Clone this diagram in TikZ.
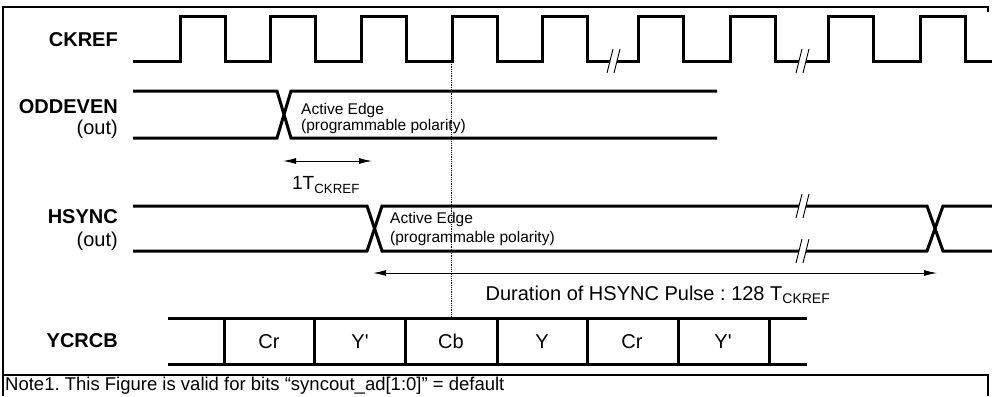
\documentclass[tikz,border=0pt]{standalone}
\usepackage{fontspec}
\setmainfont{Liberation Sans}
\usetikzlibrary{arrows.meta}
\frenchspacing
\tikzset{
%%%%%%%%%%  Line styles
wave/.style={line width=3pt, line join=miter},
bus/.style={line width=3pt},
frame/.style={line width=2pt},
guide/.style={line width=0.8pt, densely dotted},
span/.style={line width=1pt,
             {Latex[length=13pt,width=6pt]}-{Latex[length=13pt,width=6pt]}},
%%%%%%%%%%  Text styles
signame/.style={anchor=east, inner sep=0pt,
                font=\fontsize{20}{24}\selectfont\bfseries},
sigdir/.style={anchor=east, inner sep=0pt,
               font=\fontsize{20}{24}\selectfont},
edgenote/.style={anchor=west, inner sep=0pt,
                 font=\fontsize{15.5}{18}\selectfont},
cellname/.style={anchor=base, inner sep=0pt, font=\fontsize{20}{24}\selectfont},
%%%%%%%%%%  break mark on a line
cut/.pic={
  \fill[white] (-6,12) -- (0,-12) -- (7,-12) -- (1,12) -- cycle;
  \draw[line width=0.9pt] (-6,12) -- (0,-12);
  \draw[line width=0.9pt] (1,12) -- (7,-12);
}
}

\begin{document}
\begin{tikzpicture}[x=1pt,y=-1pt]
\useasboundingbox (0,0) rectangle (992,396);
%% outer frame and note box
\draw[frame] (988,12) -- (988,7) -- (3,7) -- (3,396);
\draw[frame] (3,375) -- (988,375) -- (988,396);
\node[anchor=west, inner sep=0pt, font=\fontsize{18.5}{22}\selectfont] (note) at (5,386)
  {Note1. This Figure is valid for bits “syncout\_ad[1:0]” = default};
%%%%%%%%%%%%%%%%%%%%%%%%%%%%%%%%%%%%%%%%%%%%%%%%%%%%%%%
%% CKREF
\node[signame] (ckref) at (118,40) {CKREF};
\draw[wave] (133,61)
  \foreach \r in {180,270,361,452,542,638,730,828,920}
    { -- (\r,61) -- (\r,17) -- (\r+45,17) -- (\r+45,61) }
  -- (992,61);
\pic at (613,61) {cut};
\pic at (802,61) {cut};
%%%%%%%%%%%%%%%%%%%%%%%%%%%%%%%%%%%%%%%%%%%%%%%%%%%%%%%
%% ODDEVEN
\node[signame] (odd) at (118,107) {ODDEVEN};
\node[sigdir] (oddout) at (118,129) {(out)};
\draw[wave] (133,91) -- (277,91) -- (291,138) -- (717,138);
\draw[wave] (133,138) -- (277,138) -- (291,91) -- (717,91);
\node[edgenote] (oddedge) at (301,110) {Active Edge};
\node[edgenote] (oddpol) at (301,126) {(programmable polarity)};
%% one clock period
\coordinate (ta) at (283,161);
\coordinate (tb) at (372,161);
\draw[span] (ta) -- (tb);
\node[font=\fontsize{19}{22}\selectfont] (tlabel) at (326,185) {1T\textsubscript{CKREF}};
%%%%%%%%%%%%%%%%%%%%%%%%%%%%%%%%%%%%%%%%%%%%%%%%%%%%%%%
%% HSYNC
\node[signame] (hsync) at (118,217) {HSYNC};
\node[sigdir] (hsout) at (118,241) {(out)};
\draw[wave] (133,206) -- (367,206) -- (382,251) -- (927,251) -- (943,206) -- (992,206);
\draw[wave] (133,251) -- (367,251) -- (382,206) -- (927,206) -- (943,251) -- (992,251);
\pic at (802,206) {cut};
\pic at (802,251) {cut};
\node[edgenote] (hsedge) at (390,219) {Active Edge};
\node[edgenote] (hspol) at (390,238) {(programmable polarity)};
%% pulse duration
\coordinate (da) at (373,273);
\coordinate (db) at (937,273);
\draw[span] (da) -- (db);
\node[font=\fontsize{20}{24}\selectfont] (dlabel) at (658,295)
  {Duration of HSYNC Pulse : 128 T\textsubscript{CKREF}};
%%%%%%%%%%%%%%%%%%%%%%%%%%%%%%%%%%%%%%%%%%%%%%%%%%%%%%%
%% YCRCB
\node[signame] (ycrcb) at (118,341) {YCRCB};
\draw[bus] (168,318) -- (807,318);
\draw[bus] (168,364) -- (807,364);
\foreach \d in {224,314,405,497,587,678,769}
  \draw[bus] (\d,318) -- (\d,364);
\node[cellname] (c1) at (269,348) {Cr};
\node[cellname] (c2) at (360,348) {Y\textquotesingle};
\node[cellname] (c3) at (451,348) {Cb};
\node[cellname] (c4) at (542,348) {Y};
\node[cellname] (c5) at (632,348) {Cr};
\node[cellname] (c6) at (723,348) {Y\textquotesingle};
%% reference edge
\coordinate (ga) at (451,62);
\coordinate (gb) at (451,317);
\draw[guide] (ga) -- (gb);
\end{tikzpicture}
\end{document}
